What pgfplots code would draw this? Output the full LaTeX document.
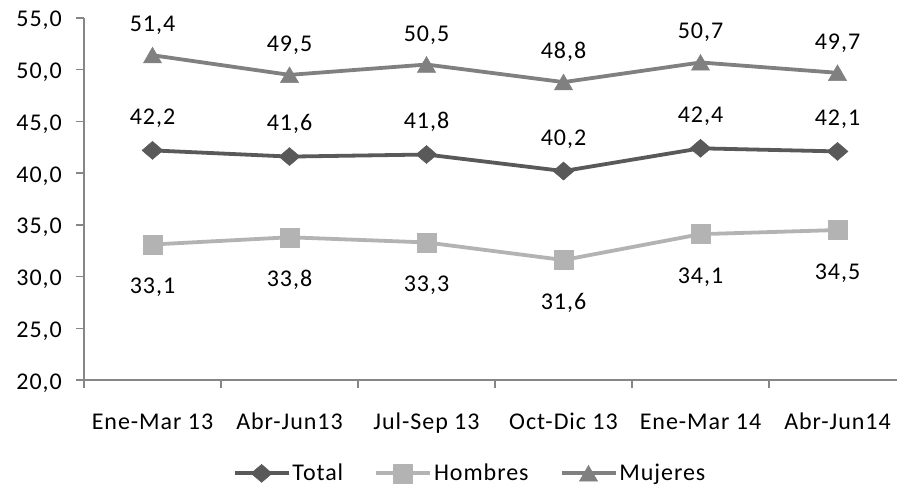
\documentclass[border=0pt]{standalone}
\usepackage{fontspec}
\setmainfont{Carlito}[LetterSpace=4]
\usepackage{pgfplots}
\pgfplotsset{compat=1.18}
\definecolor{cTotal}{HTML}{595959}
\definecolor{cHom}{HTML}{B3B3B3}
\definecolor{cMuj}{HTML}{808080}
\definecolor{axc}{HTML}{868686}
\newcommand\F{\fontsize{24bp}{28bp}\selectfont}
\pgfkeys{/pgf/number format/.cd, fixed, fixed zerofill, precision=1, use comma, assume math mode=true}
\begin{document}
\begin{tikzpicture}
\useasboundingbox (0,0) rectangle (897bp,489bp);
\begin{axis}[
 at={(84bp,109bp)}, anchor=south west,
 scale only axis, width=822bp, height=362bp,
 xmin=-0.5, xmax=5.5, ymin=20, ymax=55,
 axis lines*=left,
 axis line style={draw=axc, line width=1.5bp},
 xtick={-0.5,0.5,...,5.5},
 x tick label as interval,
 xticklabels={Ene-Mar 13,Abr-Jun13,Jul-Sep 13,Oct-Dic 13,Ene-Mar 14,Abr-Jun14},
 ytick={20,25,...,55},
 tick align=outside,
 major tick length=8bp,
 tick style={draw=axc, line width=1.5bp},
 every tick label/.append style={font=\F, text=black, inner sep=0pt},
 xticklabel style={anchor=base, yshift=-41bp},
 yticklabel style={anchor=base east, xshift=-14bp, yshift=-9bp},
 every node near coord/.append style={font=\F, text=black, inner sep=0pt, anchor=base},
 legend columns=3,
 legend style={at={(0.4696,-0.258)}, anchor=center, draw=none, fill=none, font=\F, text=black,
   /tikz/every even column/.append style={column sep=29bp}},
 legend image code/.code={\draw[mark repeat=2, mark phase=2, #1] plot coordinates {(0bp,0bp) (27bp,0bp) (54bp,0bp)};},
]
\addplot[color=cTotal, line width=3.8bp, mark=diamond*, mark size=9bp,
  mark options={xscale=1.55, line width=0.5bp, solid},
  nodes near coords, every node near coord/.append style={yshift=26bp}]
  coordinates {(0,42.2) (1,41.6) (2,41.8) (3,40.2) (4,42.4) (5,42.1)};
\addlegendentry{Total}
\addplot[color=cHom, line width=3.8bp, mark=square*, mark size=9.5bp,
  mark options={line width=0.5bp, solid},
  nodes near coords, every node near coord/.append style={yshift=-49bp}]
  coordinates {(0,33.1) (1,33.8) (2,33.3) (3,31.6) (4,34.1) (5,34.5)};
\addlegendentry{Hombres}
\addplot[color=cMuj, line width=3.8bp, mark=triangle*, mark size=10.5bp,
  mark options={line width=0.5bp, solid, yshift=-2.5bp},
  nodes near coords, every node near coord/.append style={yshift=26bp}]
  coordinates {(0,51.4) (1,49.5) (2,50.5) (3,48.8) (4,50.7) (5,49.7)};
\addlegendentry{Mujeres}
\end{axis}
\end{tikzpicture}
\end{document}
